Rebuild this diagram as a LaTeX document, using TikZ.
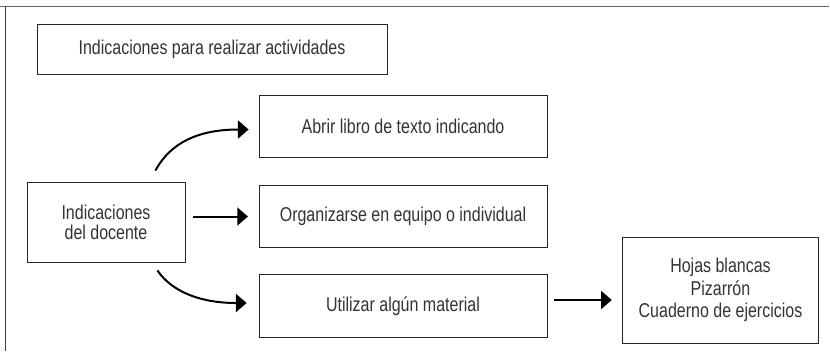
\documentclass[tikz,border=0pt]{standalone}
\usepackage{fontspec}
\setmainfont{Liberation Sans}[FakeStretch=0.8]
\usetikzlibrary{arrows.meta}
\tikzset{
  caja/.style={draw=black!85, line width=0.6pt, text=black!80, inner sep=0pt, align=center,
    font=\fontsize{15}{17}\selectfont},
  flecha/.style={line width=1.5pt, -{Triangle[length=8pt,width=13.5pt]}}
}
\begin{document}
\begin{tikzpicture}[x=0.75pt,y=0.75pt,yscale=-1,xscale=1]
        \useasboundingbox (0,0) rectangle (830,351);
        % marco
        \draw [color=black!60, line width=1.2pt] (0,6.5) -- (829,6.5);
        \draw [color=black!75, line width=0.9pt] (5.5,6) -- (5.5,351);
        % cajas
        \node [caja, minimum width=262.5pt, minimum height=37.5pt] (titulo) at (212,49) {Indicaciones para realizar actividades};
        \node [caja, minimum width=118.5pt, minimum height=60pt, font=\fontsize{15}{15}\selectfont] (indic) at (106,222) {Indicaciones\\del docente};
        \node [caja, minimum width=216pt, minimum height=47pt] (abrir) at (403,126.5) {Abrir libro de texto indicando};
        \node [caja, minimum width=216pt, minimum height=47pt] (org) at (403,216.5) {Organizarse en equipo o individual};
        \node [caja, minimum width=216pt, minimum height=47pt] (util) at (403,306) {Utilizar algún material};
        \node [caja, minimum width=147.5pt, minimum height=79.5pt] (hojas) at (720.5,290) {Hojas blancas\\Pizarrón\\Cuaderno de ejercicios};
        % flechas
        \draw [flecha] ([shift={(-30,-11)}]indic.north east) .. controls +(15,-28) and +(-50,0) .. ([shift={(-10,3)}]abrir.west);
        \draw [flecha, shorten <=6pt, shorten >=8pt] (indic.east |- org.west) -- (org.west);
        \draw [flecha] ([shift={(-28,8)}]indic.south east) .. controls +(15,22) and +(-45,0) .. ([shift={(-12,-3)}]util.west);
        \draw [flecha] ([shift={(7,-6)}]util.east) -- ([shift={(-10,-6)}]util.east -| hojas.west);
\end{tikzpicture}
\end{document}
